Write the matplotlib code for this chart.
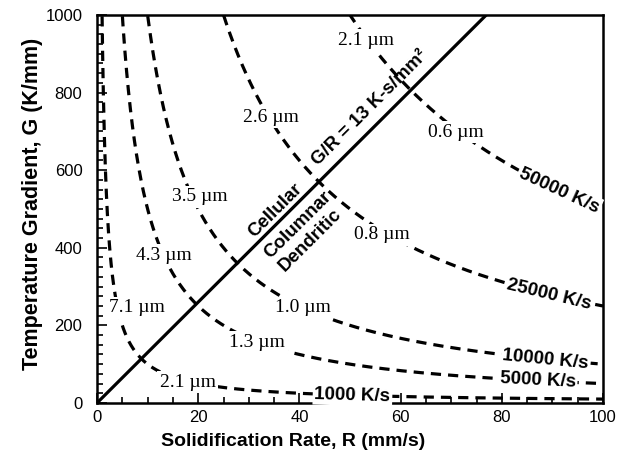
import numpy as np
import matplotlib
matplotlib.use("Agg")
import matplotlib.pyplot as plt
from matplotlib.ticker import MultipleLocator

# cooling rates G*R (K/s) drawn as iso-lines
cooling_rates = [1000, 5000, 10000, 25000, 50000]
rate_labels = ["1000 K/s", "5000 K/s", "10000 K/s", "25000 K/s", "50000 K/s"]
rate_label_r = [50.5, 87.1, 88.7, 89.4, 91.3]

# G/R criterion line
g_over_r = 13

# arm spacing notes along each iso-line (left of the G/R line, right of it)
spacing_text = ["2.1 µm", "2.6 µm", "0.6 µm", "3.5 µm", "0.8 µm",
                "4.3 µm", "7.1 µm", "1.0 µm", "1.3 µm", "2.1 µm"]
spacing_r = [53.2, 34.3, 71.0, 20.4, 56.3, 13.3, 7.9, 40.7, 31.7, 17.9]
spacing_g = [935, 737, 698, 531, 433, 381, 245, 245, 157, 54]

SANS = "Liberation Sans"
SERIF = "Liberation Serif"

fig = plt.figure(figsize=(6.23, 4.70), dpi=100)
ax = fig.add_axes([0.1557, 0.1426, 0.8122, 0.8255])
ax.set_xlim(0, 100)
ax.set_ylim(0, 1000)

r = np.linspace(0.05, 100, 2000)
for c in cooling_rates:
    ax.plot(r, c / r, color="black", lw=2.3, dashes=(3.2, 2.2),
            dash_capstyle="butt", zorder=2)

ax.plot(r, g_over_r * r, color="black", lw=2.3, solid_capstyle="butt", zorder=3)

# rotation of a label sitting on G = c / R, measured on screen
def screen_angle(c, x):
    p0 = ax.transData.transform((x - 0.5, c / (x - 0.5)))
    p1 = ax.transData.transform((x + 0.5, c / (x + 0.5)))
    return np.degrees(np.arctan2(p1[1] - p0[1], p1[0] - p0[0]))

for c, lab, x in zip(cooling_rates, rate_labels, rate_label_r):
    ax.text(x, c / x, lab, rotation=screen_angle(c, x), rotation_mode="anchor",
            ha="center", va="center", fontsize=13.5, fontweight="bold",
            family=SANS, zorder=4,
            bbox=dict(boxstyle="square,pad=0.1", fc="white", ec="none"))

for t, x, y in zip(spacing_text, spacing_r, spacing_g):
    ax.text(x, y, t, ha="center", va="center", fontsize=14, family=SERIF,
            zorder=4, bbox=dict(boxstyle="square,pad=0.12", fc="white", ec="none"))

line_angle = np.degrees(np.arctan2(*(ax.transData.transform((1, g_over_r))
                                     - ax.transData.transform((0, 0)))[::-1]))
line_notes = [("G/R = 13 K-s/mm²", 56.2, (-8.3, 8.3)),
              ("Cellular", 36.7, (-5.5, 5.5)),
              ("Columnar", 37.5, (8, -8)),
              ("Dendritic", 37.3, (18, -18))]
for t, x, off in line_notes:
    ax.annotate(t, xy=(x, g_over_r * x), xytext=off, textcoords="offset points",
                rotation=line_angle, rotation_mode="anchor", ha="center",
                va="center", fontsize=13.5, fontweight="bold", family=SANS, zorder=5)

ax.xaxis.set_major_locator(MultipleLocator(20))
ax.xaxis.set_minor_locator(MultipleLocator(5))
ax.yaxis.set_major_locator(MultipleLocator(200))
ax.yaxis.set_minor_locator(MultipleLocator(25))
ax.tick_params(which="both", direction="in", top=False, right=False, width=1.2)
ax.tick_params(which="major", length=7, labelsize=12)
ax.tick_params(which="minor", length=4)
ax.tick_params(axis="x", which="major", pad=5)
ax.tick_params(axis="y", which="major", pad=10.5)
for lab in ax.get_xticklabels() + ax.get_yticklabels():
    lab.set_family(SANS)
for s in ax.spines.values():
    s.set_linewidth(1.8)

ax.set_xlabel("Solidification Rate, R (mm/s)", fontsize=14, fontweight="bold",
              family=SANS, va="center")
ax.set_ylabel("Temperature Gradient, G (K/mm)", fontsize=15.5, fontweight="bold",
              family=SANS)
ax.xaxis.set_label_coords(0.387, -0.098)
ax.yaxis.set_label_coords(-0.107, 0.514)

fig.savefig("out.png", dpi=100)
